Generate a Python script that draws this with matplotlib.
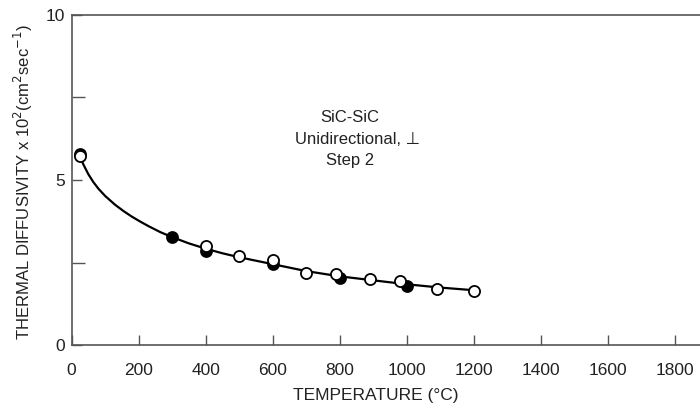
import matplotlib
matplotlib.use("Agg")
import matplotlib.pyplot as plt

plt.rcParams["font.family"] = ["Liberation Sans", "DejaVu Sans"]

# measured points, temperature in deg C, diffusivity x 10^2 cm^2/s
open_temp = [25, 400, 500, 600, 700, 790, 890, 980, 1090, 1200]
open_diff = [5.72, 3.00, 2.70, 2.58, 2.18, 2.15, 2.00, 1.94, 1.70, 1.64]
filled_temp = [25, 300, 400, 600, 800, 1000]
filled_diff = [5.78, 3.26, 2.84, 2.46, 2.03, 1.80]

# hand-drawn trend curve through the data
curve_temp = [25, 35, 50, 65, 80, 100, 130, 155, 180, 205, 230, 265, 300,
              350, 400, 450, 500, 600, 700, 800, 900, 1000, 1100, 1200]
curve_diff = [5.72, 5.48, 5.18, 4.94, 4.74, 4.52, 4.25, 4.06, 3.89, 3.74, 3.60, 3.42, 3.27,
              3.08, 2.92, 2.78, 2.66, 2.45, 2.24, 2.08, 1.96, 1.84, 1.74, 1.66]

x_ticks = [0, 200, 400, 600, 800, 1000, 1200, 1400, 1600, 1800]
y_ticks = [0, 5, 10]

# annotation lines with their pixel anchors (left edge, vertical centre)
note_lines = ["SiC-SiC", "Unidirectional, ⊥", "Step 2"]
note_x = [320, 295, 326]
note_y = [118, 140, 160]

fig = plt.figure(figsize=(7.0, 4.09), dpi=100)
# axes runs on to 2000 deg C, past the right edge of the figure
ax = fig.add_axes([71.5 / 700, 64 / 409, 670.5 / 700, 330 / 409])

ax.plot(curve_temp, curve_diff, color="black", linewidth=1.6, zorder=2)
ax.plot(filled_temp, filled_diff, "o", color="black", markersize=8,
        markeredgewidth=1.2, zorder=3)
ax.plot(open_temp, open_diff, "o", markerfacecolor="white", markeredgecolor="black",
        markersize=8, markeredgewidth=1.3, zorder=4)

ax.set_xlim(0, 2000)
ax.set_ylim(0, 10)
ax.set_xticks(x_ticks)
ax.set_yticks(y_ticks)
ax.set_yticks([2.5, 7.5], minor=True)

for side in ["left", "bottom", "top", "right"]:
    ax.spines[side].set_color("#555555")
    ax.spines[side].set_linewidth(1.2)

ax.tick_params(which="both", direction="in", color="#555555", width=1.0,
               labelsize=12.5, labelcolor="#222222")
ax.tick_params(which="major", length=7)
ax.tick_params(which="minor", length=9)
ax.tick_params(axis="x", pad=13)
ax.tick_params(axis="y", pad=5)

ax.set_xlabel("TEMPERATURE (°C)", fontsize=12.5, color="#222222")
ax.xaxis.set_label_coords((376 - 71.5) / 670.5, -0.13)
ax.set_ylabel("THERMAL DIFFUSIVITY x 10$^{2}$(cm$^{2}$sec$^{-1}$)", fontsize=12,
              color="#222222")
ax.yaxis.set_label_coords(-0.054, 0.495)

for txt, px, py in zip(note_lines, note_x, note_y):
    fig.text(px / 700, 1 - py / 409, txt, fontsize=12, color="#222222",
             va="center")

fig.savefig("out.png", dpi=100)
